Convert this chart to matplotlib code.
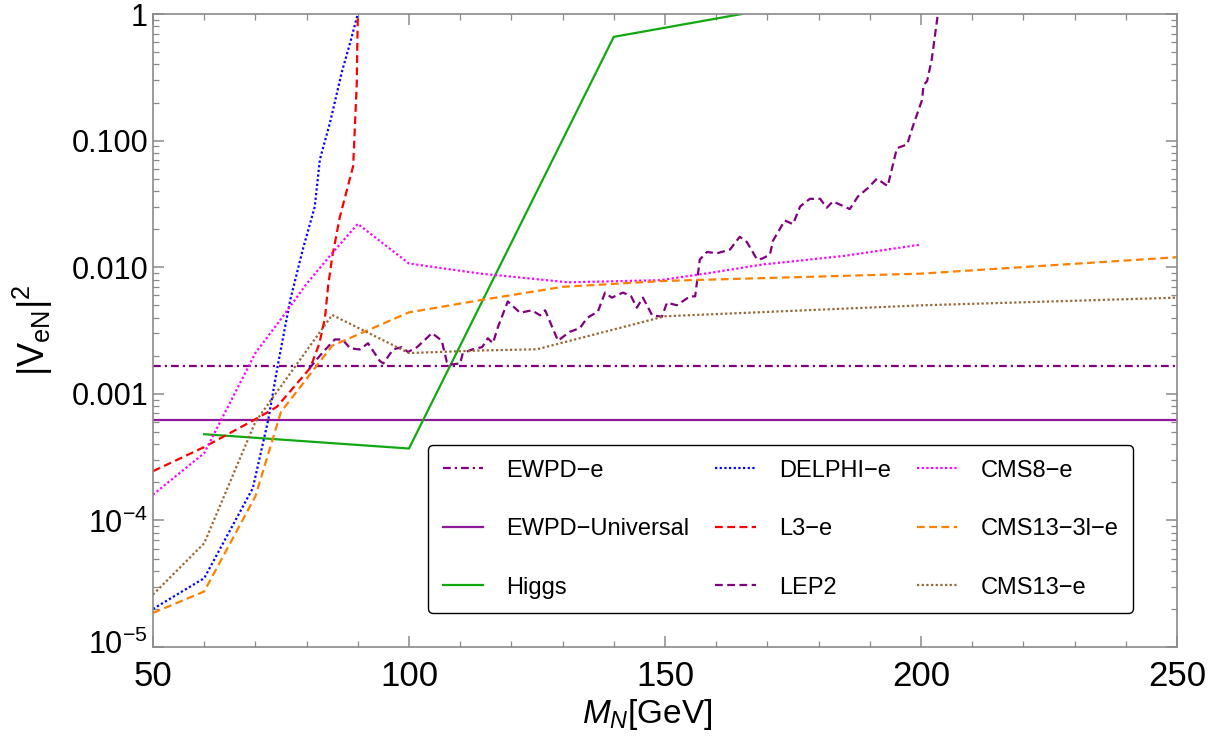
import matplotlib
matplotlib.use('Agg')
import matplotlib.pyplot as plt
import matplotlib.transforms as mtransforms
from matplotlib.ticker import FixedLocator, MultipleLocator, LogLocator, NullFormatter

plt.rcParams['font.family'] = ['Liberation Sans', 'DejaVu Sans']
plt.rcParams['mathtext.fontset'] = 'custom'
plt.rcParams['mathtext.rm'] = 'Liberation Sans'
plt.rcParams['mathtext.it'] = 'Liberation Sans:italic'
plt.rcParams['mathtext.bf'] = 'Liberation Sans:bold'

# bounds
ewpd_e = 1.66e-3
ewpd_universal = 6.2e-4

higgs_m = [60, 100, 140, 165]
higgs_v = [4.8e-4, 3.7e-4, 0.66, 1.0]

delphi_m = [50, 60, 69.5, 72.5, 74.4, 76.8, 79.3, 81.6, 82.6, 84.6, 86.9, 88.5, 90]
delphi_v = [2.0e-5, 3.5e-5, 1.8e-4, 6.2e-4, 1.7e-3, 5.5e-3, 0.014, 0.030, 0.071,
            0.14, 0.35, 0.59, 1.0]

l3_m = [50, 60, 70, 74.2, 80.7, 82.5, 83.6, 84.2, 85.0, 86.5, 89.1, 89.8, 90]
l3_v = [2.45e-4, 3.8e-4, 6.3e-4, 7.9e-4, 1.6e-3, 2.5e-3, 4.0e-3, 7.1e-3, 0.012,
        0.025, 0.063, 0.28, 1.0]

lep2_m = [80.5, 83, 85.5, 87, 88.5, 90.4, 92, 94.3, 95, 96.9, 98.6, 99.8, 101.6,
          104.5, 106.4, 107.4, 108, 110, 110.5, 112.3, 114.3, 115.4, 116.4, 117.4,
          119.3, 121.7, 124.0, 125.6, 126.6, 129.1, 131.4, 133.4, 134.8, 136.9,
          138.3, 139.6, 141.8, 143.4, 144.5, 145.7, 147.5, 149.4, 150.4, 152.3,
          154.9, 155.9, 156.8, 158.2, 160.2, 162.7, 164.6, 166.0, 168.0, 169.0,
          170.5, 171.1, 173.4, 175.0, 176.4, 178.3, 180.3, 181.6, 182.8, 186.1,
          187.7, 189.5, 191.4, 193.5, 195.3, 197.3, 198.4, 200.2, 200.5, 201.2,
          202.1, 203.3]
lep2_v = [1.58e-3, 2.09e-3, 2.69e-3, 2.69e-3, 2.29e-3, 2.24e-3, 2.51e-3, 1.82e-3,
          1.74e-3, 2.24e-3, 2.34e-3, 2.14e-3, 2.34e-3, 3.02e-3, 2.63e-3, 1.78e-3,
          1.70e-3, 1.74e-3, 2.09e-3, 2.24e-3, 2.34e-3, 2.75e-3, 2.51e-3, 3.39e-3,
          5.37e-3, 4.37e-3, 4.57e-3, 4.17e-3, 4.57e-3, 2.63e-3, 3.09e-3, 3.31e-3,
          3.98e-3, 4.47e-3, 6.31e-3, 5.75e-3, 6.31e-3, 5.89e-3, 4.79e-3, 5.75e-3,
          4.17e-3, 4.07e-3, 5.25e-3, 5.01e-3, 5.89e-3, 5.89e-3, 0.0115, 0.0132,
          0.0129, 0.0138, 0.0174, 0.0158, 0.0115, 0.0117, 0.0126, 0.0162, 0.0234,
          0.0219, 0.0302, 0.0347, 0.0347, 0.0295, 0.0331, 0.0288, 0.0363, 0.0417,
          0.0501, 0.0437, 0.0871, 0.0933, 0.129, 0.209, 0.275, 0.295, 0.437, 1.0]

cms8_m = [50, 60, 70, 75.4, 80, 85, 90, 100, 114, 121.7, 131, 149, 159.4, 169, 185, 200]
cms8_v = [1.6e-4, 3.4e-4, 2.1e-3, 4.1e-3, 7.4e-3, 0.0129, 0.022, 0.0107, 0.0089,
          0.0083, 0.0076, 0.0079, 0.0091, 0.0105, 0.0123, 0.0151]

cms13_3l_m = [50, 60, 70, 75, 85, 100, 114, 130, 150, 200, 250]
cms13_3l_v = [1.86e-5, 2.75e-5, 1.55e-4, 7.2e-4, 2.4e-3, 4.4e-3, 5.5e-3, 7.0e-3,
              7.8e-3, 8.9e-3, 0.012]

cms13_m = [50, 60, 70, 85, 100, 114, 125, 150, 200, 250]
cms13_v = [2.6e-5, 6.6e-5, 6.0e-4, 4.2e-3, 2.1e-3, 2.2e-3, 2.25e-3, 4.1e-3, 5.0e-3, 5.75e-3]

y_ticks = [1e-5, 1e-4, 1e-3, 1e-2, 1e-1, 1]
y_ticklabels = ['$10^{-5}$', '$10^{-4}$', '0.001', '0.010', '0.100', '1']


def main():
    fig = plt.figure(figsize=(12.16, 7.37), dpi=100)
    ax = fig.add_axes([0.1258, 0.122, 0.8421, 0.859])

    lw = 1.6
    dotted = (0, (1, 1.1))
    dashed = (0, (3.5, 2))

    ax.plot([50, 250], [ewpd_e, ewpd_e], color='#800080', lw=lw,
            ls=(0, (3.5, 1.8, 1, 1.8)), label='EWPD\u2212e')
    ax.plot([50, 250], [ewpd_universal, ewpd_universal], color='#8e1a9a', lw=lw,
            label='EWPD\u2212Universal')
    ax.plot(higgs_m, higgs_v, color='#12a812', lw=lw, label='Higgs')
    ax.plot(delphi_m, delphi_v, color='#0000ff', lw=lw, ls=dotted, label='DELPHI\u2212e')
    ax.plot(l3_m, l3_v, color='#ff0000', lw=lw, ls=dashed, label='L3\u2212e')
    ax.plot(lep2_m, lep2_v, color='#800080', lw=lw, ls=dashed, label='LEP2')
    ax.plot(cms8_m, cms8_v, color='#ff00ff', lw=lw, ls=dotted, label='CMS8\u2212e')
    ax.plot(cms13_3l_m, cms13_3l_v, color='#ff8000', lw=lw, ls=dashed,
            label='CMS13\u22123l\u2212e')
    ax.plot(cms13_m, cms13_v, color='#996633', lw=lw, ls=dotted, label='CMS13\u2212e')

    ax.set_yscale('log')
    ax.set_xlim(50, 250)
    ax.set_ylim(1e-5, 1)

    ax.yaxis.set_major_locator(FixedLocator(y_ticks))
    ax.set_yticklabels(y_ticklabels)
    ax.yaxis.set_minor_locator(LogLocator(base=10, subs=range(2, 10), numticks=20))
    ax.yaxis.set_minor_formatter(NullFormatter())
    ax.xaxis.set_major_locator(MultipleLocator(50))
    ax.xaxis.set_minor_locator(MultipleLocator(10))

    gray = '#8a8a8a'
    for sp in ax.spines.values():
        sp.set_color(gray)
        sp.set_linewidth(1.2)
    ax.tick_params(which='both', direction='in', top=True, right=True, color=gray)
    ax.tick_params(which='major', length=8, width=1.1)
    ax.tick_params(which='minor', length=4, width=0.9)
    ax.tick_params(axis='y', labelsize=22, pad=3.5)
    ax.tick_params(axis='x', pad=9)
    for lab in ax.get_xticklabels():
        lab.set_family(['Liberation Sans Narrow', 'Liberation Sans'])
        lab.set_fontsize(25)
    # nudge the lowest y label up a few pixels so it clears the "50"
    low = ax.get_yticklabels()[0]
    low.set_transform(low.get_transform() +
                      mtransforms.ScaledTranslation(0, 5 / 100, fig.dpi_scale_trans))

    fig.text(0.532, 0.031, '$M_N$[GeV]', ha='center', va='center', fontsize=24,
             family=['Liberation Sans Narrow', 'Liberation Sans'])
    fig.text(0.027, 0.552, r'$|\mathrm{V}_{\mathrm{eN}}|^{2}$', ha='center', va='center',
             rotation=90, fontsize=26)

    leg = ax.legend(loc='lower left', bbox_to_anchor=(0.269, 0.054, 0.688, 0.262),
                    mode='expand', ncol=3, fontsize=17, frameon=True, fancybox=True,
                    edgecolor='black', framealpha=1, handlelength=1.7,
                    handletextpad=1.0, labelspacing=1.55, borderpad=0.6,
                    borderaxespad=0)
    leg.get_frame().set_linewidth(1.0)

    fig.savefig('out.png', dpi=100)


if __name__ == '__main__':
    main()
